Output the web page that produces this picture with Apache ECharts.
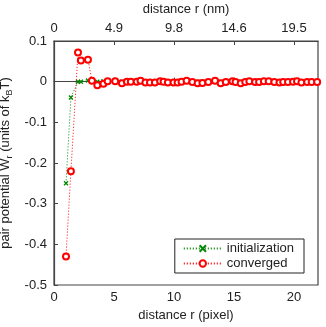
<!DOCTYPE html>
<html>
<head>
<meta charset="utf-8">
<script src="https://cdn.jsdelivr.net/npm/echarts@6/dist/echarts.min.js"></script>
<style>
  html, body { margin: 0; padding: 0; background: #fff; }
  #container { width: 326px; height: 327px; }
</style>
</head>
<body>
<div id="container"></div>
<script>
// distance r in pixels (shared by both series)
var rPixel = [1, 1.41, 2, 2.24, 2.83, 3.16, 3.61, 4.12, 4.47, 5.1, 5.66, 6.08, 6.4, 6.89, 7.21,
  7.62, 8.0, 8.41, 8.85, 9.13, 9.49, 9.96, 10.3, 10.63, 11.05, 11.53, 11.97, 12.37, 12.86,
  13.42, 13.89, 14.32, 14.87, 15.13, 15.56, 15.94, 16.28, 16.76, 17.09, 17.49, 17.89, 18.36,
  18.79, 19.1, 19.5, 19.92, 20.25, 20.62, 21.1, 21.47, 21.93];

var initialization = [-0.25, -0.039, 0, 0, 0.003, 0.002, 0, 0.001, 0, 0, 0, 0, 0, 0, 0.001,
  0, 0, 0, 0, 0, 0, 0, 0, 0, 0.001, 0, 0, 0, 0, 0.001, 0, 0, 0, 0, 0, 0, 0, 0, 0, 0.001,
  0, 0, 0, 0, 0, 0, 0, 0, 0, 0, 0];

var converged = [-0.43, -0.22, 0.072, 0.052, 0.054, 0.002, -0.009, -0.005, 0.001, 0.001,
  -0.004, 0, 0, 0, 0.002, -0.002, -0.002, -0.002, 0.001, 0, -0.002, -0.002, -0.002, 0,
  0.002, -0.001, -0.004, -0.003, -0.001, 0.002, -0.004, -0.001, 0.001, -0.001, -0.004,
  -0.001, 0.001, -0.001, -0.001, 0.001, 0.001, -0.001, -0.002, -0.001, -0.001, 0, 0.001,
  -0.002, -0.001, -0.001, -0.001];

// top axis labels (nm) at pixel ticks 0, 5, 10, 15, 20
var nmLabels = ['0', '4.9', '9.8', '14.6', '19.5'];

function pairs(xs, ys) {
  return xs.map(function (x, i) { return [x, ys[i]]; });
}

var myChart = echarts.init(document.getElementById('container'));

var axisColor = '#444';
var font = 'Liberation Sans, Arial, sans-serif';
var fs = 13;

var option = {
  animation: false,
  grid: {
    left: 54, right: 8, top: 41, bottom: 42, outerBoundsMode: 'none',
    show: true, borderColor: axisColor, borderWidth: 1.2
  },
  legend: {
    orient: 'vertical',
    right: 22,
    bottom: 54,
    itemWidth: 38,
    itemHeight: 8,
    itemGap: 2,
    padding: [3, 10, 3, 8],
    borderColor: '#222',
    borderWidth: 1,
    backgroundColor: '#fff',
    textStyle: { fontFamily: font, fontSize: fs, color: '#222' },
    data: ['initialization', 'converged']
  },
  xAxis: [
    {
      type: 'value', min: 0, max: 22, interval: 5,
      name: 'distance r (pixel)', nameLocation: 'middle', nameGap: 24,
      nameTextStyle: { fontFamily: font, fontSize: fs, color: '#222' },
      axisLine: { show: true, lineStyle: { color: axisColor, width: 1.2 } },
      axisTick: { show: true, inside: true, length: 4, lineStyle: { color: axisColor } },
      axisLabel: { fontFamily: font, fontSize: fs, color: '#222', margin: 6, showMaxLabel: false },
      splitLine: { show: false }
    },
    {
      type: 'value', position: 'top', min: 0, max: 22, interval: 5,
      name: 'distance r (nm)', nameLocation: 'middle', nameGap: 25,
      nameTextStyle: { fontFamily: font, fontSize: fs, color: '#222' },
      axisLine: { show: true, lineStyle: { color: axisColor, width: 1.2 } },
      axisTick: { show: true, inside: true, length: 4, lineStyle: { color: axisColor } },
      axisLabel: {
        fontFamily: font, fontSize: fs, color: '#222', margin: 6, showMaxLabel: false,
        formatter: function (v) { return nmLabels[Math.round(v / 5)]; }
      },
      splitLine: { show: false }
    }
  ],
  yAxis: {
    type: 'value', min: -0.5, max: 0.1, interval: 0.1,
    name: 'pair potential W{sub|r} (units of k{sub|B}T)', nameLocation: 'middle', nameGap: 38,
    nameTextStyle: {
      fontFamily: font, fontSize: fs, color: '#222',
      rich: { sub: { fontFamily: font, fontSize: 9, color: '#222', padding: [7, 0, 0, 0] } }
    },
    axisLine: { show: true, lineStyle: { color: axisColor, width: 1.2 } },
    axisTick: { show: true, inside: true, length: 4, lineStyle: { color: axisColor } },
    axisLabel: {
      fontFamily: font, fontSize: fs, color: '#222', margin: 7,
      formatter: function (v) { return Math.abs(v) < 1e-9 ? '0' : (Math.round(v * 10) / 10).toString(); }
    },
    splitLine: { show: false }
  },
  series: [
    {
      name: 'initialization',
      type: 'line',
      data: pairs(rPixel, initialization),
      symbol: 'path://M0,0L10,10M10,0L0,10',
      symbolSize: 4,
      itemStyle: { color: '#008800', borderColor: '#008800', borderWidth: 1.3 },
      lineStyle: { color: '#008800', width: 1, type: [1, 2] },
      z: 2
    },
    {
      name: 'converged',
      type: 'line',
      data: pairs(rPixel, converged),
      symbol: 'emptyCircle',
      symbolSize: 6,
      itemStyle: { color: '#ff0000', borderColor: '#ff0000', borderWidth: 1 },
      lineStyle: { color: '#ff0000', width: 1, type: [1, 2] },
      z: 3
    }
  ]
};

myChart.setOption(option);
</script>
</body>
</html>
